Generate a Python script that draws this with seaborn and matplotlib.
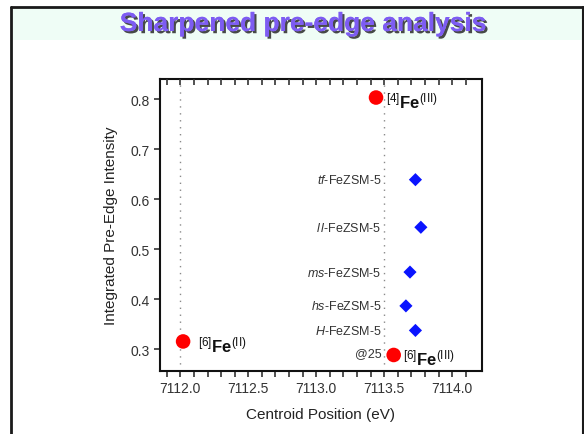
import matplotlib
matplotlib.use("Agg")
import matplotlib.pyplot as plt
import matplotlib.patches as mpatches
import matplotlib.patheffects as pe
import pandas as pd
import seaborn as sns

# reference iron compounds (red circles)
ref_labels = [r"${}^{[6]}\mathbf{Fe}^{(\mathrm{II})}$",
              r"${}^{[4]}\mathbf{Fe}^{(\mathrm{III})}$",
              r"${}^{[6]}\mathbf{Fe}^{(\mathrm{III})}$"]
ref_centroid = [7112.02, 7113.44, 7113.57]
ref_intensity = [0.316, 0.803, 0.289]
ref_offsets = [(11, -2), (7, -2), (7, -2)]

# FeZSM-5 samples (blue diamonds)
sample_prefix = ["tf", "l l", "ms", "hs", "H"]
sample_centroid = [7113.73, 7113.77, 7113.69, 7113.66, 7113.73]
sample_intensity = [0.639, 0.544, 0.4545, 0.387, 0.338]

guide_lines = [7112.0, 7113.5]
x_ticks = [7112.0, 7112.5, 7113.0, 7113.5, 7114.0]
x_minor = [round(7111.9 + 0.1 * i, 1) for i in range(23)]
y_ticks = [0.3, 0.4, 0.5, 0.6, 0.7, 0.8]
x_range = (7111.85, 7114.22)

sns.set_style("ticks")
plt.rcParams["font.family"] = ["Liberation Sans", "DejaVu Sans"]
plt.rcParams["mathtext.fontset"] = "custom"
plt.rcParams["mathtext.rm"] = "Liberation Sans"
plt.rcParams["mathtext.it"] = "Liberation Sans:italic"
plt.rcParams["mathtext.bf"] = "Liberation Sans:bold"

fig = plt.figure(figsize=(5.84, 4.35), dpi=100)
fig.patch.set_facecolor("white")

# slide frame and title band
fig.add_artist(mpatches.Rectangle((12 / 584, 1 - 41 / 435), 1, 32 / 435,
                                  transform=fig.transFigure, facecolor="#effdf6",
                                  edgecolor="none", zorder=0))
fig.add_artist(plt.Line2D([11 / 584, 11 / 584], [0, 1 - 8 / 435], transform=fig.transFigure,
                          color="#1a1a1a", lw=2))
fig.add_artist(plt.Line2D([11 / 584, 583 / 584], [1 - 8 / 435, 1 - 8 / 435], transform=fig.transFigure,
                          color="#1a1a1a", lw=2))
fig.add_artist(plt.Line2D([583 / 584, 583 / 584], [0, 1 - 8 / 435], transform=fig.transFigure,
                          color="#1a1a1a", lw=1.5))

fig.text(303 / 584, 1 - 25 / 435, "Sharpened pre-edge analysis", ha="center", va="center",
         fontsize=19, fontweight="bold", color="#7d5cf2",
         path_effects=[pe.withSimplePatchShadow(offset=(1.6, -1.6), shadow_rgbFace="#2a2a2a",
                                                alpha=0.85), pe.Normal()])

ax = fig.add_axes([160 / 584, 1 - 372 / 435, 322 / 584, 292 / 435])

for gx in guide_lines:
    ax.axvline(gx, color="#8a8a8a", lw=1, ls=(0, (1, 4)), zorder=1)

ref_df = pd.DataFrame({"centroid": ref_centroid, "intensity": ref_intensity})
sample_df = pd.DataFrame({"centroid": sample_centroid, "intensity": sample_intensity})

sns.scatterplot(data=ref_df, x="centroid", y="intensity", ax=ax, color="#ff0000",
                s=110, marker="o", edgecolor="none", zorder=3)
sns.scatterplot(data=sample_df, x="centroid", y="intensity", ax=ax, color="#0a14ff",
                s=45, marker="D", edgecolor="none", zorder=3)

for lab, x, y, off in zip(ref_labels, ref_centroid, ref_intensity, ref_offsets):
    ax.annotate(lab, (x, y), xytext=off, textcoords="offset points",
                ha="left", va="center", fontsize=12, color="#111111")

for pre, y in zip(sample_prefix, sample_intensity):
    ax.text(7113.48, y, r"$\mathit{" + pre.replace(" ", r"\,") + "}$-FeZSM-5",
            ha="right", va="center", fontsize=9, color="#333333")
ax.text(7113.48, 0.293, "@25", ha="right", va="center", fontsize=9, color="#333333")

ax.set_xlim(*x_range)
ax.set_ylim(0.257, 0.84)
ax.set_xticks(x_ticks)
ax.set_xticklabels([f"{v:.1f}" for v in x_ticks])
ax.set_xticks(x_minor, minor=True)
ax.set_yticks(y_ticks)
ax.set_yticklabels([f"{v:.1f}" for v in y_ticks])

ax.tick_params(axis="x", which="both", direction="out", length=4, width=1.2,
               labelsize=10, colors="#333333")
ax.tick_params(axis="x", which="minor", labelbottom=False)
ax.tick_params(axis="y", direction="out", length=4, width=1.2, labelsize=10,
               colors="#333333")

# inward tick marks along the top frame, at the same positions as the bottom ticks
ax.vlines(x_minor, 1 - 5.5 / 292, 1, transform=ax.get_xaxis_transform(),
          color="#333333", lw=1.2, clip_on=False, zorder=5)

for side in ["top", "right", "bottom", "left"]:
    ax.spines[side].set_visible(True)
    ax.spines[side].set_linewidth(1.5)
    ax.spines[side].set_color("#111111")

ax.set_xlabel("Centroid Position (eV)", fontsize=11, color="#222222", labelpad=8)
ax.set_ylabel("Integrated Pre-Edge Intensity", fontsize=11, color="#222222", labelpad=9)

fig.savefig("out.png", dpi=100)
